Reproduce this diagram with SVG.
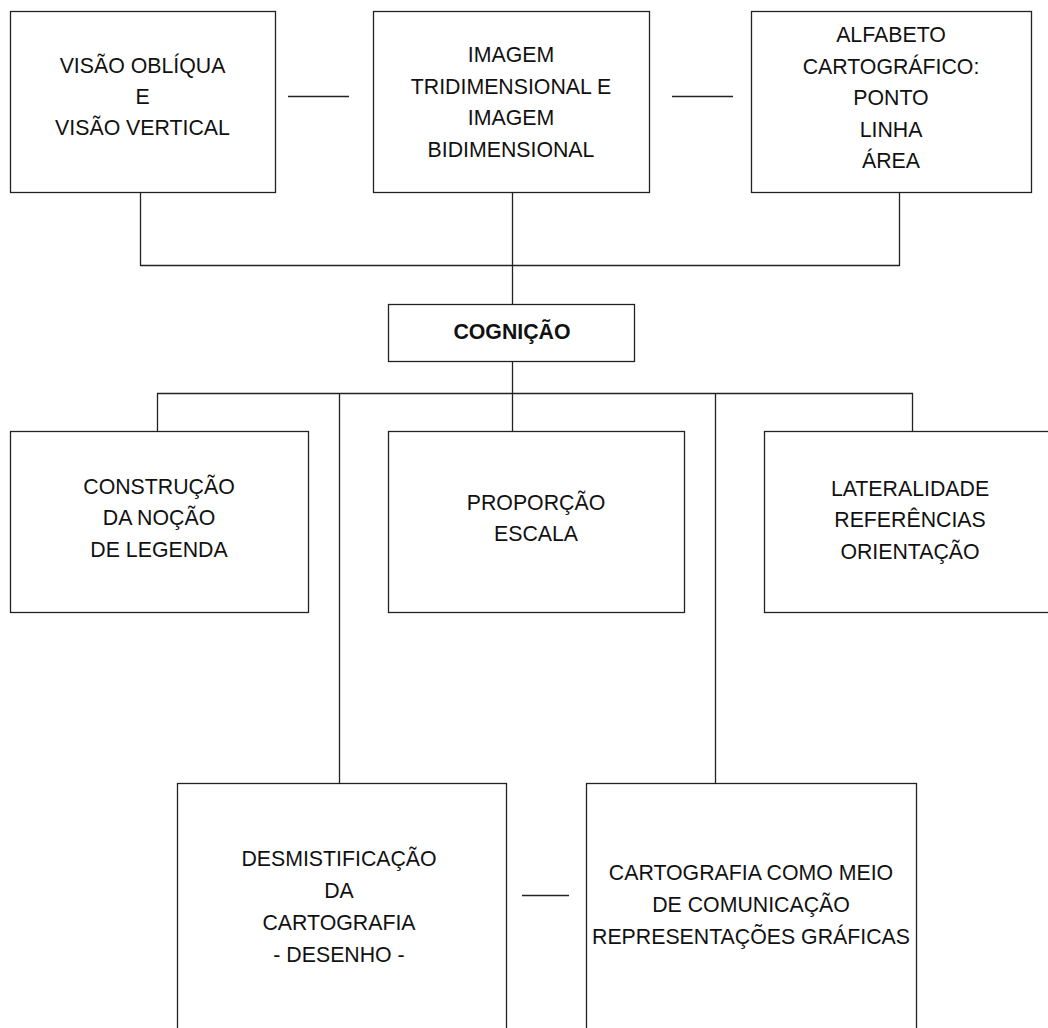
<svg xmlns="http://www.w3.org/2000/svg" width="1048" height="1028" viewBox="0 0 1048 1028">
<style>
.box{fill:#fff;stroke:#222;stroke-width:1.3}
.ln{fill:none;stroke:#222;stroke-width:1.3}
text{font-family:"Liberation Sans",Arial,sans-serif;font-size:21.3px;fill:#111;text-anchor:middle}
.b{font-weight:bold}
</style>
<rect width="1048" height="1028" fill="#fff"/>
<g id="connectors">
<path class="ln" d="M288 96.5H349M672 96.5H733M522 895.5H569"/>
<path class="ln" d="M140.5 192V265.5H899.5V192M512.5 192V304"/>
<path class="ln" d="M512.5 361V431M157.5 431V393.5H912.5V431M339.5 393.5V783M715.5 393.5V783"/>
</g>
<g id="n1"><rect class="box" x="10.5" y="11.5" width="265" height="181"/>
<text x="142.5" y="73">VISÃO OBLÍQUA</text><text x="142.5" y="104">E</text><text x="142.5" y="135">VISÃO VERTICAL</text></g>
<g id="n2"><rect class="box" x="373.5" y="11.5" width="276" height="181"/>
<text x="511" y="62">IMAGEM</text><text x="511" y="94">TRIDIMENSIONAL E</text><text x="511" y="125">IMAGEM</text><text x="511" y="157">BIDIMENSIONAL</text></g>
<g id="n3"><rect class="box" x="751.5" y="11.5" width="280" height="181"/>
<text x="891" y="42">ALFABETO</text><text x="891" y="74">CARTOGRÁFICO:</text><text x="891" y="105">PONTO</text><text x="891" y="137">LINHA</text><text x="891" y="168">ÁREA</text></g>
<g id="n4"><rect class="box" x="388.5" y="304.5" width="246" height="57"/>
<text class="b" x="512" y="339">COGNIÇÃO</text></g>
<g id="n5"><rect class="box" x="10.5" y="431.5" width="298" height="181"/>
<text x="159" y="494">CONSTRUÇÃO</text><text x="159" y="525">DA NOÇÃO</text><text x="159" y="557">DE LEGENDA</text></g>
<g id="n6"><rect class="box" x="388.5" y="431.5" width="296" height="181"/>
<text x="536" y="510">PROPORÇÃO</text><text x="536" y="541">ESCALA</text></g>
<g id="n7"><rect class="box" x="764.5" y="431.5" width="300" height="181"/>
<text x="910" y="496">LATERALIDADE</text><text x="910" y="527">REFERÊNCIAS</text><text x="910" y="559">ORIENTAÇÃO</text></g>
<g id="n8"><rect class="box" x="177.5" y="783.5" width="329" height="260"/>
<text x="339" y="866">DESMISTIFICAÇÃO</text><text x="339" y="898">DA</text><text x="339" y="930">CARTOGRAFIA</text><text x="339" y="962">- DESENHO -</text></g>
<g id="n9"><rect class="box" x="586.5" y="783.5" width="330" height="260"/>
<text x="751" y="880">CARTOGRAFIA COMO MEIO</text><text x="751" y="912">DE COMUNICAÇÃO</text><text x="751" y="944">REPRESENTAÇÕES GRÁFICAS</text></g>
</svg>
